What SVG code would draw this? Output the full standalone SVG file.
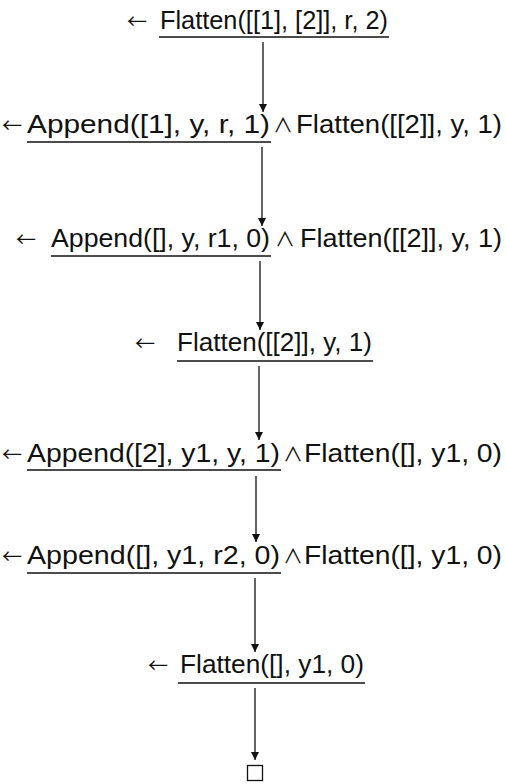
<svg xmlns="http://www.w3.org/2000/svg" width="506" height="784" viewBox="0 0 506 784">
<style>
.t{font-family:"Liberation Sans",Arial,sans-serif;font-size:26px;fill:#111}
.ar{font-family:"Noto Sans CJK JP","DejaVu Sans",sans-serif;font-size:20px;fill:#111}
.op{font-family:"Noto Sans CJK JP","DejaVu Sans",sans-serif;font-size:20px;fill:#111}
.ul{stroke:#111;stroke-width:1.3;fill:none}
.edge{stroke:#111;stroke-width:1.3;fill:none;marker-end:url(#ah)}
</style>
<defs>
<marker id="ah" viewBox="0 0 8 12" refX="8" refY="6" markerWidth="8" markerHeight="12" markerUnits="userSpaceOnUse" orient="auto">
<path d="M0,2 L8,6 L0,10 Z" fill="#111"/>
</marker>
</defs>
<rect width="506" height="784" fill="#fff"/>
<g id="connectors">
<line class="edge" x1="263" y1="42" x2="263" y2="112"/>
<line class="edge" x1="262" y1="147" x2="262" y2="226"/>
<line class="edge" x1="260" y1="261" x2="260" y2="330"/>
<line class="edge" x1="259" y1="366" x2="259" y2="440"/>
<line class="edge" x1="256" y1="476" x2="256" y2="542"/>
<line class="edge" x1="255" y1="578" x2="255" y2="652"/>
<line class="edge" x1="255" y1="688" x2="255" y2="760"/>
</g>
<g id="n1">
<text class="ar" x="127" y="29">←</text>
<text class="t" x="160" y="29" textLength="228" lengthAdjust="spacingAndGlyphs">Flatten([[1], [2]], r, 2)</text>
<line class="ul" x1="159" y1="37" x2="389" y2="37"/>
</g>
<g id="n2">
<text class="ar" x="2" y="133">←</text>
<text class="t" x="27" y="133" textLength="243" lengthAdjust="spacingAndGlyphs">Append([1], y, r, 1)</text>
<text class="op" x="273" y="133">∧</text>
<text class="t" x="296" y="133" textLength="206" lengthAdjust="spacingAndGlyphs">Flatten([[2]], y, 1)</text>
<line class="ul" x1="27" y1="142" x2="271" y2="142"/>
</g>
<g id="n3">
<text class="ar" x="16" y="247">←</text>
<text class="t" x="51" y="247" textLength="219" lengthAdjust="spacingAndGlyphs">Append([], y, r1, 0)</text>
<text class="op" x="275" y="247">∧</text>
<text class="t" x="300" y="247" textLength="202" lengthAdjust="spacingAndGlyphs">Flatten([[2]], y, 1)</text>
<line class="ul" x1="51" y1="256" x2="271" y2="256"/>
</g>
<g id="n4">
<text class="ar" x="135" y="351">←</text>
<text class="t" x="177" y="351" textLength="195" lengthAdjust="spacingAndGlyphs">Flatten([[2]], y, 1)</text>
<line class="ul" x1="177" y1="361" x2="373" y2="361"/>
</g>
<g id="n5">
<text class="ar" x="2" y="462">←</text>
<text class="t" x="27" y="462" textLength="253" lengthAdjust="spacingAndGlyphs">Append([2], y1, y, 1)</text>
<text class="op" x="283" y="462">∧</text>
<text class="t" x="304" y="462" textLength="198" lengthAdjust="spacingAndGlyphs">Flatten([], y1, 0)</text>
<line class="ul" x1="27" y1="470" x2="281" y2="470"/>
</g>
<g id="n6">
<text class="ar" x="2" y="564">←</text>
<text class="t" x="27" y="564" textLength="253" lengthAdjust="spacingAndGlyphs">Append([], y1, r2, 0)</text>
<text class="op" x="283" y="564">∧</text>
<text class="t" x="304" y="564" textLength="198" lengthAdjust="spacingAndGlyphs">Flatten([], y1, 0)</text>
<line class="ul" x1="27" y1="573" x2="281" y2="573"/>
</g>
<g id="n7">
<text class="ar" x="148" y="673">←</text>
<text class="t" x="180" y="673" textLength="184" lengthAdjust="spacingAndGlyphs">Flatten([], y1, 0)</text>
<line class="ul" x1="178" y1="683" x2="365" y2="683"/>
</g>
<g id="n8">
<rect x="247.5" y="765.5" width="15" height="15" fill="none" stroke="#111" stroke-width="1.3"/>
</g>
</svg>
